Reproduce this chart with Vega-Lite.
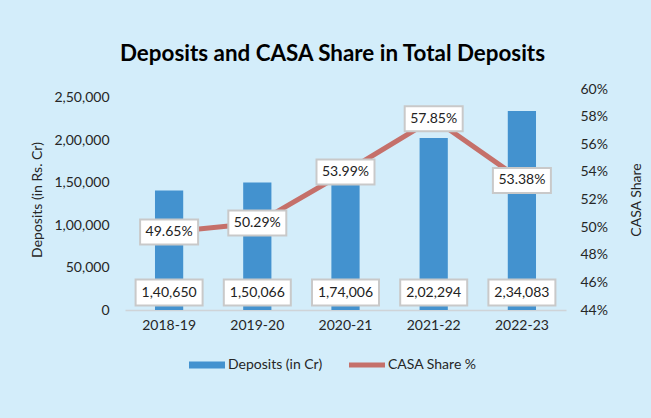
{
  "$schema": "https://vega.github.io/schema/vega-lite/v6.json",
  "width": 441,
  "height": 221,
  "autosize": {"type": "none"},
  "padding": {"left": 125, "top": 89, "right": 85, "bottom": 108},
  "background": "#d3edfa",
  "config": {
    "font": "Lato",
    "locale": {"number": {"decimal": ".", "thousands": ",", "grouping": [3, 2], "currency": ["₹", ""]}},
    "view": {"stroke": null},
    "axis": {"labelFont": "Lato", "labelFontSize": 14, "labelColor": "#262626", "titleFont": "Lato", "titleFontSize": 14, "titleFontWeight": "normal", "titleColor": "#262626", "grid": false, "ticks": false, "labelOverlap": false}
  },
  "title": {"text": "Deposits and CASA Share in Total Deposits", "font": "Lato", "fontSize": 22.4, "fontWeight": "bold", "color": "#000000", "anchor": "middle", "dx": -13, "offset": -1, "baseline": "alphabetic"},
  "data": {"values": [
    {"year": "2018-19", "deposits": 140650, "casa": 0.4965},
    {"year": "2019-20", "deposits": 150066, "casa": 0.5029},
    {"year": "2020-21", "deposits": 174006, "casa": 0.5399},
    {"year": "2021-22", "deposits": 202294, "casa": 0.5785},
    {"year": "2022-23", "deposits": 234083, "casa": 0.5338}
  ]},
  "encoding": {
    "x": {"field": "year", "type": "nominal", "sort": null, "scale": {"paddingInner": 0.68, "paddingOuter": 0.34},
      "axis": {"title": null, "labelAngle": 0, "labelPadding": 8, "domainColor": "#cfd4d8", "domainWidth": 1.5}}
  },
  "layer": [
    {
      "layer": [
        {
          "mark": {"type": "bar", "color": "#4392cf"},
          "encoding": {
            "y": {"field": "deposits", "type": "quantitative", "scale": {"domain": [0, 250000]},
              "axis": {"title": "Deposits (in Rs. Cr)", "values": [0, 50000, 100000, 150000, 200000, 250000], "format": ",.0f", "domain": false, "labelPadding": 16, "titlePadding": 9, "labelOverlap": false}},
            "color": {"datum": "Deposits (in Cr)", "type": "nominal",
              "scale": {"domain": ["Deposits (in Cr)", "CASA Share %"], "range": ["#4392cf", "#c5706a"]},
              "legend": {"title": null, "orient": "none", "direction": "horizontal", "legendX": 64, "legendY": 258,
                "labelFont": "Lato", "labelFontSize": 14, "labelColor": "#262626", "labelOffset": 3, "columnPadding": 26,
                "symbolType": "M-1,-0.2H1V0.2H-1Z", "symbolSize": 1296, "symbolStrokeWidth": 0,
                "symbolOpacity": 1,
                "encode": {"symbols": {"update": {"shape": {"signal": "datum.value === 'CASA Share %' ? 'M-1,-0.14H1V0.14H-1Z' : 'M-1,-0.2H1V0.2H-1Z'"}}}}}}
          }
        },
        {
          "mark": {"type": "point", "shape": "M-1,-0.388H1V0.388H-1Z", "size": 4489, "filled": true, "fill": "#ffffff", "stroke": "#c9c9c9", "strokeWidth": 2, "opacity": 1},
          "encoding": {"y": {"datum": 20500, "type": "quantitative"}}
        },
        {
          "mark": {"type": "text", "font": "Lato", "fontSize": 14, "color": "#222222"},
          "encoding": {
            "y": {"datum": 20500, "type": "quantitative"},
            "text": {"field": "deposits", "type": "quantitative", "format": ","}
          }
        }
      ]
    },
    {
      "layer": [
        {
          "mark": {"type": "line", "color": "#c5706a", "strokeWidth": 5, "strokeJoin": "round", "strokeCap": "round"},
          "encoding": {
            "y": {"field": "casa", "type": "quantitative", "scale": {"domain": [0.44, 0.6], "zero": false, "nice": false},
              "axis": {"orient": "right", "title": "CASA Share", "titleAngle": 270, "tickCount": 8, "format": ".0%", "domain": false, "labelPadding": 14, "titlePadding": 36, "labelOverlap": false}}
          }
        },
        {
          "mark": {"type": "point", "shape": "M-1,-0.431H1V0.431H-1Z", "size": 3364, "filled": true, "fill": "#ffffff", "stroke": "#c9c9c9", "strokeWidth": 2, "opacity": 1},
          "encoding": {"y": {"field": "casa", "type": "quantitative"}}
        },
        {
          "mark": {"type": "text", "font": "Lato", "fontSize": 14, "color": "#222222"},
          "encoding": {
            "y": {"field": "casa", "type": "quantitative"},
            "text": {"field": "casa", "type": "quantitative", "format": ".2%"}
          }
        }
      ]
    }
  ],
  "resolve": {"scale": {"y": "independent"}}
}
